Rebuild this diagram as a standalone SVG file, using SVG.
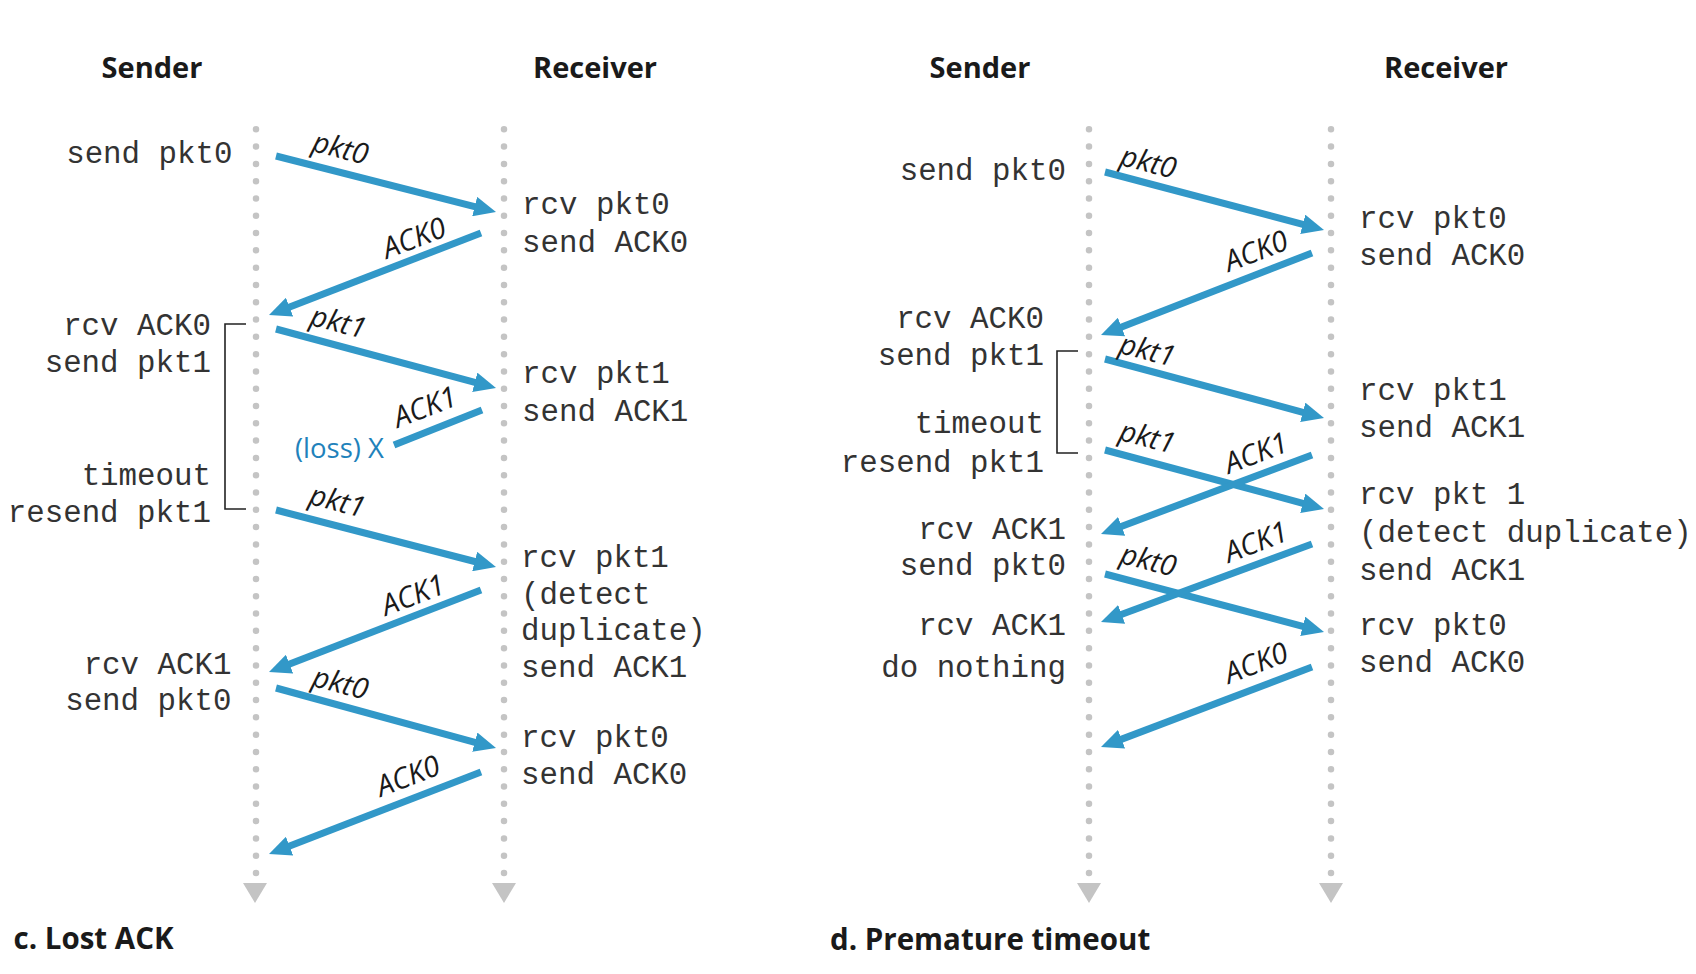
<svg xmlns="http://www.w3.org/2000/svg" width="1696" height="974" viewBox="0 0 1696 974">
<style>
.title{font-family:"Open Sans","Noto Sans",sans-serif;font-weight:700;font-size:29px;fill:#1a1a1a;text-anchor:middle}
.cap{font-family:"Open Sans","Noto Sans",sans-serif;font-weight:700;font-size:29.5px;fill:#1a1a1a}
.mono{font-family:"Liberation Mono","DejaVu Sans Mono",monospace;font-size:30.8px;fill:#333}
.end{text-anchor:end}
.lbl{font-family:"Open Sans","Noto Sans",sans-serif;font-style:italic;font-size:29px;fill:#1a1a1a;text-anchor:middle}
.loss{font-family:"Open Sans","Noto Sans",sans-serif;font-size:27.5px;fill:#1f82bb}
.life{stroke:#c4c4c4;stroke-width:6.5;stroke-linecap:round;stroke-dasharray:0 17.295;fill:none}
.lifeend{fill:#c4c4c4}
.arr{stroke:#3298c8;stroke-width:7;fill:none;marker-end:url(#head)}
.lost{stroke:#3298c8;stroke-width:7;fill:none}
.brk{stroke:#222;stroke-width:1.6;fill:none}
</style>
<defs>
<marker id="head" markerUnits="userSpaceOnUse" markerWidth="22" markerHeight="20" viewBox="0 -10 22 20" refX="4" refY="0" orient="auto">
<polygon points="0,-10 22,0 0,10" fill="#3298c8"/>
</marker>
</defs>
<rect width="1696" height="974" fill="#ffffff"/>

<g id="panel-c">
<g id="c-sender-head"><text class="title" x="152" y="78">Sender</text></g>
<g id="c-receiver-head"><text class="title" x="595" y="78">Receiver</text></g>
<g id="c-lifelines">
<line class="life" x1="256" y1="129.3" x2="256" y2="873"/>
<polygon class="lifeend" points="243,883 267,883 255,903"/>
<line class="life" x1="504" y1="129.3" x2="504" y2="873"/>
<polygon class="lifeend" points="492,883 516,883 504,903"/>
</g>
<g id="c-sender-events">
<text class="mono end" x="232.5" y="162.5">send pkt0</text>
<text class="mono end" x="211" y="335">rcv ACK0</text>
<text class="mono end" x="211" y="372">send pkt1</text>
<text class="mono end" x="211" y="485">timeout</text>
<text class="mono end" x="211" y="522">resend pkt1</text>
<text class="mono end" x="231.5" y="674">rcv ACK1</text>
<text class="mono end" x="231.5" y="710">send pkt0</text>
</g>
<g id="c-receiver-events">
<text class="mono" x="522" y="214">rcv pkt0</text>
<text class="mono" x="522" y="252">send ACK0</text>
<text class="mono" x="522" y="383">rcv pkt1</text>
<text class="mono" x="522" y="421">send ACK1</text>
<text class="mono" x="521" y="567">rcv pkt1</text>
<text class="mono" x="521" y="604">(detect</text>
<text class="mono" x="521" y="640">duplicate)</text>
<text class="mono" x="521" y="677">send ACK1</text>
<text class="mono" x="521" y="747">rcv pkt0</text>
<text class="mono" x="521" y="784">send ACK0</text>
</g>
<g id="c-timer"><path class="brk" d="M246,324 H225 V509 H246"/></g>
<g id="c-caption"><text class="cap" x="13.5" y="949">c. Lost ACK</text></g>
</g>

<g id="panel-d">
<g id="d-sender-head"><text class="title" x="980" y="78">Sender</text></g>
<g id="d-receiver-head"><text class="title" x="1446" y="78">Receiver</text></g>
<g id="d-lifelines">
<line class="life" x1="1089" y1="129.3" x2="1089" y2="873"/>
<polygon class="lifeend" points="1077,883 1101,883 1089,903"/>
<line class="life" x1="1331" y1="129.3" x2="1331" y2="873"/>
<polygon class="lifeend" points="1319,883 1343,883 1331,903"/>
</g>
<g id="d-sender-events">
<text class="mono end" x="1066" y="180">send pkt0</text>
<text class="mono end" x="1044" y="328">rcv ACK0</text>
<text class="mono end" x="1044" y="365">send pkt1</text>
<text class="mono end" x="1044" y="433">timeout</text>
<text class="mono end" x="1044" y="472">resend pkt1</text>
<text class="mono end" x="1066" y="539">rcv ACK1</text>
<text class="mono end" x="1066" y="575">send pkt0</text>
<text class="mono end" x="1066" y="635">rcv ACK1</text>
<text class="mono end" x="1066" y="677">do nothing</text>
</g>
<g id="d-receiver-events">
<text class="mono" x="1359" y="228">rcv pkt0</text>
<text class="mono" x="1359" y="265">send ACK0</text>
<text class="mono" x="1359" y="400">rcv pkt1</text>
<text class="mono" x="1359" y="437">send ACK1</text>
<text class="mono" x="1359" y="504">rcv pkt 1</text>
<text class="mono" x="1359" y="542">(detect duplicate)</text>
<text class="mono" x="1359" y="580">send ACK1</text>
<text class="mono" x="1359" y="635">rcv pkt0</text>
<text class="mono" x="1359" y="672">send ACK0</text>
</g>
<g id="d-timer"><path class="brk" d="M1078,351 H1057 V453 H1078"/></g>
<g id="d-caption"><text class="cap" x="830" y="950">d. Premature timeout</text></g>
</g>

<g id="connectors">
<path class="arr" d="M276,156 L478.56,207.56"/>
<path class="arr" d="M481,233 L285.79,308.51"/>
<path class="arr" d="M276,329 L478.62,383.34"/>
<path class="lost" d="M482,410 L394,445"/>
<path class="arr" d="M276,510 L478.58,562.49"/>
<path class="arr" d="M481,590 L285.79,665.51"/>
<path class="arr" d="M276,688 L478.64,743.26"/>
<path class="arr" d="M481,772 L285.79,847.51"/>

<path class="arr" d="M1105,172 L1306.6,225.39"/>
<path class="arr" d="M1312,253 L1117.78,328.48"/>
<path class="arr" d="M1105,359 L1306.62,413.32"/>
<path class="arr" d="M1105,450 L1306.62,504.32"/>
<path class="arr" d="M1312,455 L1117.86,527.69"/>
<path class="arr" d="M1105,574 L1306.6,627.39"/>
<path class="arr" d="M1312,544 L1117.88,615.76"/>
<path class="arr" d="M1312,667 L1117.83,740.62"/>
</g>

<g id="connector-labels">
<text class="lbl" transform="translate(340,150) rotate(14.5)" y="8">pkt0</text>
<text class="lbl" transform="translate(414,238) rotate(-21)" y="10">ACK0</text>
<text class="lbl" transform="translate(338,324) rotate(14.5)" y="8">pkt1</text>
<text class="lbl" transform="translate(425,407) rotate(-21)" y="10">ACK1</text>
<text class="loss" x="295" y="458">(loss) X</text>
<text class="lbl" transform="translate(337,503) rotate(14.5)" y="8">pkt1</text>
<text class="lbl" transform="translate(413,595) rotate(-21)" y="10">ACK1</text>
<text class="lbl" transform="translate(340,685) rotate(14.5)" y="8">pkt0</text>
<text class="lbl" transform="translate(408,776) rotate(-21)" y="10">ACK0</text>

<text class="lbl" transform="translate(1148,164) rotate(14.5)" y="8">pkt0</text>
<text class="lbl" transform="translate(1256,251) rotate(-21)" y="10">ACK0</text>
<text class="lbl" transform="translate(1147,352) rotate(14.5)" y="8">pkt1</text>
<text class="lbl" transform="translate(1147,439) rotate(14.5)" y="8">pkt1</text>
<text class="lbl" transform="translate(1256,453) rotate(-21)" y="10">ACK1</text>
<text class="lbl" transform="translate(1148,562) rotate(14.5)" y="8">pkt0</text>
<text class="lbl" transform="translate(1256,542) rotate(-21)" y="10">ACK1</text>
<text class="lbl" transform="translate(1256,663) rotate(-21)" y="10">ACK0</text>
</g>
</svg>
